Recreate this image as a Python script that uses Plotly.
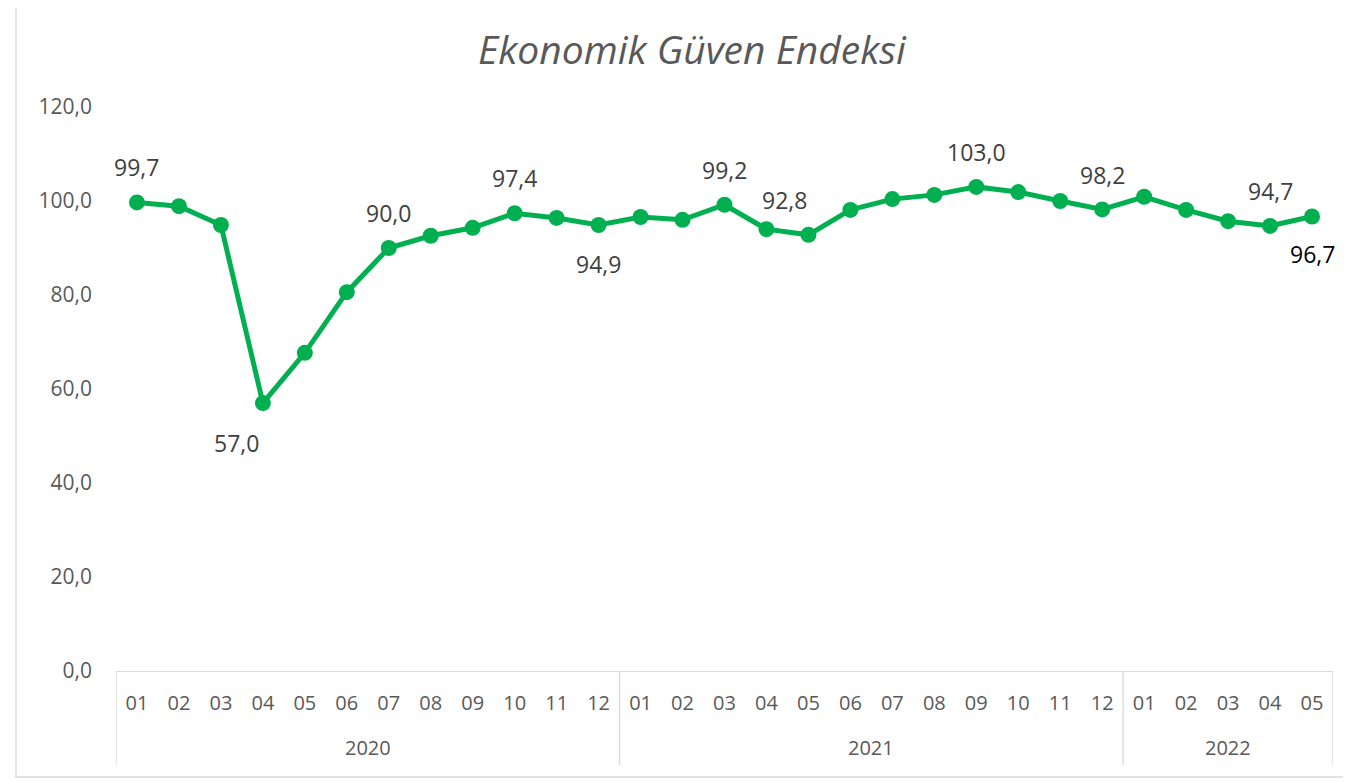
import plotly.graph_objects as go

years = ['2020'] * 12 + ['2021'] * 12 + ['2022'] * 5
months = ['01', '02', '03', '04', '05', '06', '07', '08', '09', '10', '11', '12'] * 2 + ['01', '02', '03', '04', '05']
values = [99.7, 98.9, 94.9, 57.0, 67.7, 80.6, 90.0, 92.6, 94.3, 97.4, 96.4, 94.9,
          96.6, 96.0, 99.2, 94.0, 92.8, 98.1, 100.4, 101.3, 103.0, 101.9, 100.0, 98.2,
          100.9, 98.1, 95.7, 94.7, 96.7]
# labelled points: index -> (x shift px, y shift px)
label_shift = {0: (0, 35), 3: (-26, -40), 6: (0, 35), 9: (0, 35), 11: (0, -39),
               14: (0, 35), 16: (-24, 35), 20: (0, 35), 23: (0, 34), 27: (0, 35), 28: (0, -37)}
y_ticks = [0, 20, 40, 60, 80, 100, 120]

green = '#00B050'
grey_line = '#d9d9d9'
OFF = 8  # page body margin
W, H = 1351 - OFF, 782 - OFF
ml, mt = 116 - OFF, 107 - OFF
pw, ph = 1333 - 116, 671 - 107
mr, mb = W - ml - pw, H - mt - ph


def px_x(x):
    return (x - OFF - ml) / pw


def px_y(y):
    return (mt + ph - (y - OFF)) / ph


cats = [f'{y}-{m}' for y, m in zip(years, months)]

fig = go.Figure()
fig.add_trace(go.Scatter(
    x=cats,
    y=values,
    mode='lines+markers',
    line={'color': green, 'width': 5},
    marker={'color': green, 'size': 16},
    cliponaxis=False,
    hoverinfo='none'
))

for i, (dx, dy) in label_shift.items():
    fig.add_annotation(
        x=cats[i], y=values[i], xref='x', yref='y',
        text=f'{values[i]:.1f}'.replace('.', ','), showarrow=False,
        xshift=dx, yshift=dy, xanchor='center', yanchor='middle',
        font={'family': 'Open Sans', 'size': 23,
              'color': '#000000' if i == len(values) - 1 else '#404040'})

# year groups: dividers under the axis and centred year labels
year_list = sorted(set(years))
bounds = [-0.5]
for yr in year_list:
    bounds.append(bounds[-1] + years.count(yr))
for b in bounds:
    fig.add_shape(type='line', xref='x', yref='paper', x0=b, x1=b, y0=0, y1=px_y(765),
                  line={'color': grey_line, 'width': 1.3})
for yr, b0, b1 in zip(year_list, bounds[:-1], bounds[1:]):
    fig.add_annotation(x=(b0 + b1) / 2, xref='x', y=px_y(747), yref='paper',
                       text=yr, showarrow=False, yanchor='middle',
                       font={'family': 'Open Sans', 'size': 20, 'color': '#595959'})

# chart border (Excel style)
fig.add_shape(
    type='rect', xref='paper', yref='paper',
    x0=px_x(16), x1=px_x(1350), y0=px_y(777), y1=px_y(3),
    line={'color': grey_line, 'width': 1.3},
    fillcolor='rgba(0,0,0,0)', layer='below'
)

fig.update_layout(
    width=W, height=H,
    title={'text': 'Ekonomik Güven Endeksi', 'xref': 'container', 'x': (692 - OFF) / W,
           'xanchor': 'center', 'y': 1 - (50 - OFF) / H, 'yanchor': 'middle',
           'font': {'family': 'Open Sans', 'size': 39, 'color': '#595959', 'style': 'italic'}},
    xaxis=dict(
        type='category', range=[-0.5, len(cats) - 0.5],
        tickvals=cats, ticktext=months,
        showline=True, linecolor=grey_line, linewidth=1.3,
        showgrid=False, ticks='', ticklabelstandoff=14,
        automargin=False,
        tickfont={'family': 'Open Sans', 'size': 20, 'color': '#595959'},
    ),
    yaxis=dict(
        range=[0, 120], tickvals=y_ticks, tickformat='.1f',
        showgrid=False, zeroline=False, showline=False,
        ticks='', ticklabelstandoff=23, automargin=False,
        tickfont={'family': 'Open Sans', 'size': 21, 'color': '#595959'},
    ),
    separators=',.',
    showlegend=False,
    plot_bgcolor='white', paper_bgcolor='white',
    margin=dict(l=ml, r=mr, t=mt, b=mb, autoexpand=False),
)

fig.write_html('out.html')
